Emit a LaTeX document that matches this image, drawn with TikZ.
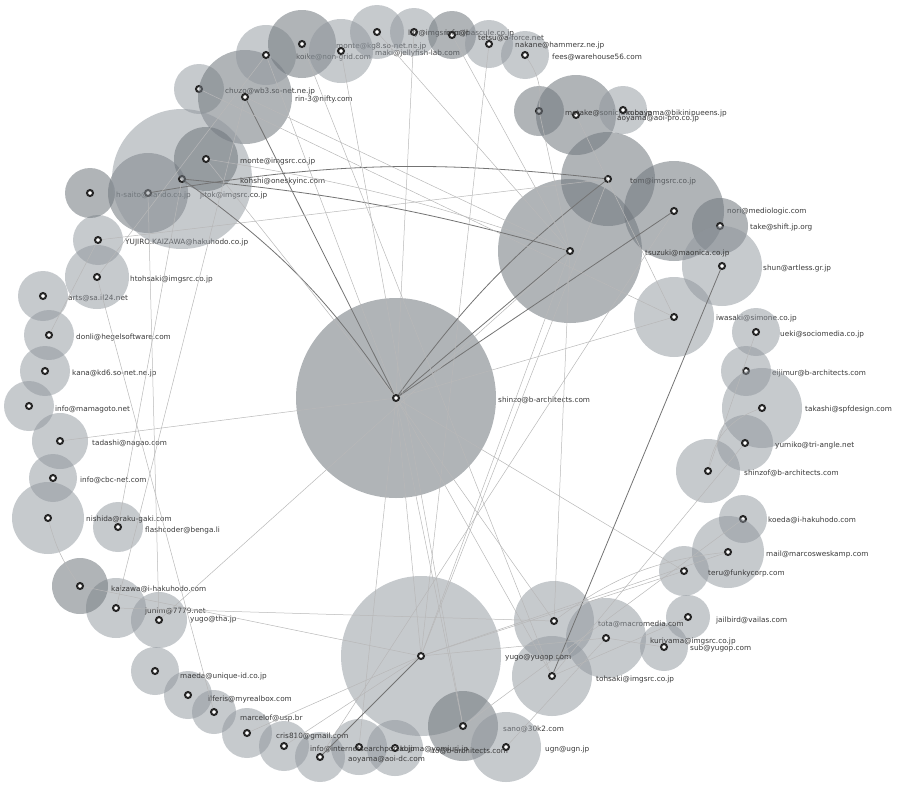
\documentclass[tikz,border=0pt]{standalone}
\usepackage{fontspec}
\setmainfont{DejaVu Sans}
\definecolor{bubc}{HTML}{8E959C}
\definecolor{dbubc}{HTML}{6F767C}
\begin{document}
\begin{tikzpicture}[x=1pt,y=-1pt,
  bub/.style={circle,fill=bubc,fill opacity=0.5,inner sep=0pt,draw=none},
  dbub/.style={circle,fill=dbubc,fill opacity=0.55,inner sep=0pt,draw=none},
  dot/.style={circle,draw=black!85,line width=2pt,fill=white,inner sep=0pt,minimum size=6pt},
  lab/.style={font=\fontsize{7.3}{8}\selectfont,text=black!78,anchor=west,inner sep=0pt},
  e/.style={draw=black!28,line width=0.5pt},
  d/.style={draw=black!55,line width=0.8pt}]
\useasboundingbox (0,0) rectangle (909,790);
\newcommand{\pn}[7]{%
  \node[#4,minimum size=#3*2pt] at (#2) {};
  \node[dot] (#1) at (#2) {};
  \node[lab] at (#6) {#5};}
% top
\pn{a1}{199,89}{25}{bub}{chuzo@wb3.so-net.ne.jp}{225,91}{}
\pn{a2}{245,97}{47}{dbub}{rin-3@nifty.com}{295,99}{}
\pn{a3}{266,55}{30}{bub}{koike@non-grid.com}{296,57}{}
\pn{a4}{302,44}{34}{dbub}{monte@kg8.so-net.ne.jp}{336,46}{}
\pn{a5}{341,51}{32}{bub}{maki@jellyfish-lab.com}{375,53}{}
\pn{a6}{377,32}{27}{bub}{}{0,0}{}
\pn{a7}{414,32}{24}{bub}{lily@imgsrc.co.jp}{408,33}{}
\pn{a8}{452,35}{24}{dbub}{info@bascule.co.jp}{445,33}{}
\pn{a9}{489,44}{24}{bub}{tetsu@a-force.net}{478,38}{}
\pn{a10}{525,55}{24}{bub}{nakane@hammerz.ne.jp}{515,45}{}
\node[lab] at (552,57) {fees@warehouse56.com};
% right
\pn{b1}{539,111}{25}{dbub}{}{0,0}{}
\pn{b2}{576,115}{40}{dbub}{motake@sonicjam.co.jp}{565,113}{}
\pn{b3}{623,110}{24}{bub}{kobayama@bikinipueens.jp}{626,113}{}
\node[lab] at (617,118) {aoyama@aoi-pro.co.jp};
\pn{b4}{608,179}{47}{dbub}{tom@imgsrc.co.jp}{630,181}{}
\pn{b5}{674,211}{50}{dbub}{nori@mediologic.com}{727,211}{}
\pn{b6}{720,226}{28}{dbub}{take@shift.jp.org}{750,227}{}
\pn{b7}{722,266}{40}{bub}{shun@artless.gr.jp}{763,268}{}
\pn{b8}{570,251}{72}{dbub}{tsuzuki@maonica.co.jp}{645,253}{}
\pn{b9}{674,317}{40}{bub}{iwasaki@simone.co.jp}{716,318}{}
\pn{b10}{756,332}{24}{bub}{ueki@sociomedia.co.jp}{780,334}{}
\pn{b11}{746,371}{25}{bub}{eijimur@b-architects.com}{772,373}{}
\pn{b12}{762,408}{40}{bub}{takashi@spfdesign.com}{805,409}{}
\pn{b13}{745,443}{28}{bub}{yumiko@tri-angle.net}{775,445}{}
\pn{b14}{708,471}{32}{bub}{shinzof@b-architects.com}{744,473}{}
\pn{b15}{743,519}{24}{bub}{koeda@i-hakuhodo.com}{768,520}{}
\pn{b16}{728,552}{36}{bub}{mail@marcosweskamp.com}{766,554}{}
\pn{b17}{684,571}{25}{bub}{teru@funkycorp.com}{708,573}{}
\pn{b18}{688,617}{22}{bub}{jailbird@vailas.com}{716,620}{}
\pn{b19}{664,647}{24}{bub}{sub@yugop.com}{690,648}{}
% bottom
\pn{c1}{554,621}{40}{bub}{tota@macromedia.com}{598,624}{}
\pn{c2}{606,638}{40}{bub}{kuriyama@imgsrc.co.jp}{650,641}{}
\pn{c3}{552,676}{40}{bub}{tohsaki@imgsrc.co.jp}{596,679}{}
\pn{c4}{421,656}{80}{bub}{yugo@yugop.com}{505,658}{}
\pn{c5}{463,726}{35}{dbub}{sano@30k2.com}{503,729}{}
\pn{c6}{506,747}{35}{bub}{ugn@ugn.jp}{545,749}{}
\pn{c7}{395,748}{28}{bub}{ito@b-architects.com}{430,751}{}
\pn{c8}{359,747}{28}{bub}{kojima@yomiuri.jp}{400,749}{}
\pn{c9}{320,757}{25}{bub}{aoyama@aoi-dc.com}{348,759}{}
\pn{c10}{284,746}{25}{bub}{info@internetsearchportal.jp}{310,749}{}
\pn{c11}{247,733}{25}{bub}{cris810@gmail.com}{276,736}{}
\pn{c12}{214,712}{22}{bub}{marcelof@usp.br}{240,718}{}
\pn{c13}{188,695}{24}{bub}{ilferis@myrealbox.com}{208,699}{}
% left
\pn{d1}{155,671}{24}{bub}{maeda@unique-id.co.jp}{180,676}{}
\pn{d2}{159,620}{28}{bub}{yugo@tha.jp}{190,619}{}
\pn{d3}{116,608}{30}{bub}{junim@7779.net}{145,611}{}
\pn{d4}{80,586}{28}{dbub}{kaizawa@i-hakuhodo.com}{111,589}{}
\pn{d5}{118,527}{25}{bub}{flashcoder@benga.li}{145,530}{}
\pn{d6}{48,518}{36}{bub}{nishida@raku-gaki.com}{86,519}{}
\pn{d7}{53,478}{24}{bub}{info@cbc-net.com}{80,480}{}
\pn{d8}{60,441}{28}{bub}{tadashi@nagao.com}{92,443}{}
\pn{d9}{29,406}{25}{bub}{info@mamagoto.net}{55,409}{}
\pn{d10}{45,371}{25}{bub}{kana@kd6.so-net.ne.jp}{72,373}{}
\pn{d11}{49,335}{25}{bub}{donli@hegelsoftware.com}{76,337}{}
\pn{d12}{43,296}{25}{bub}{arts@sa.il24.net}{68,298}{}
\pn{d13}{97,277}{32}{bub}{htohsaki@imgsrc.co.jp}{130,279}{}
\pn{d14}{98,240}{25}{bub}{YUJIRO.KAIZAWA@hakuhodo.co.jp}{125,242}{}
\pn{d15}{90,193}{25}{dbub}{h-saito@nando.co.jp}{116,195}{}
\pn{d16}{148,193}{40}{dbub}{jitok@imgsrc.co.jp}{200,195}{}
\pn{d17}{182,179}{70}{bub}{kohshi@oneskyinc.com}{240,181}{}
\pn{d18}{206,159}{32}{dbub}{monte@imgsrc.co.jp}{240,161}{}
% center
\pn{s}{396,398}{100}{dbub}{shinzo@b-architects.com}{498,400}{}
% edges
\draw[d] (s) -- (a2);
\draw[d] (s) to[bend right=10] (d17);
\draw[d] (s) -- (b8);
\draw[d] (s) to[bend left=8] (b4);
\draw[d] (s) -- (b5);
\draw[e] (s) -- (a3);
\draw[e] (s) -- (d18);
\draw[e] (s) -- (c4);
\draw[e] (s) -- (b9);
\draw[e] (s) -- (c1);
\draw[e] (s) -- (c3);
\draw[e] (s) -- (b17);
\draw[e] (s) -- (c8);
\draw[e] (s) -- (d8);
\draw[e] (s) -- (a7);
\draw[e] (s) -- (c5);
\draw[d] (d17) to[bend left=5] (b8);
\draw[d] (d16) to[bend left=8] (b4);
\draw[e] (d18) to[bend left=5] (b8);
\draw[e] (a2) -- (b8);
\draw[e] (a1) -- (b9);
\draw[e] (a5) -- (c5);
\draw[e] (a6) -- (b8);
\draw[e] (a9) -- (c4);
\draw[e] (a10) to[bend left=20] (b1);
\draw[e] (a4) -- (c3);
\draw[e] (b1) -- (b8);
\draw[e] (b2) -- (b9);
\draw[e] (b4) -- (c4);
\draw[e] (b5) -- (c9);
\draw[d] (b7) -- (c3);
\draw[e] (b8) -- (c4);
\draw[e] (b8) -- (d2);
\draw[e] (b8) -- (c1);
\draw[e] (b10) -- (b14);
\draw[e] (b12) to[bend right=30] (b14);
\draw[e] (b13) -- (c3);
\draw[e] (b16) -- (c4);
\draw[e] (b16) to[bend right=15] (c1);
\draw[e] (b15) -- (c5);
\draw[e] (b17) -- (c4);
\draw[e] (c4) -- (d4);
\draw[e] (c4) -- (c11);
\draw[e] (c4) -- (c10);
\draw[d] (c4) -- (c9);
\draw[e] (c4) -- (c2);
\draw[e] (c1) -- (d3);
\draw[e] (c2) -- (c6);
\draw[e] (d16) -- (d2);
\draw[e] (d17) -- (d5);
\draw[e] (d13) -- (c12);
\draw[e] (d14) -- (b4);
\draw[e] (a3) -- (d13);
\draw[e] (a2) -- (d3);
\draw[e] (d6) to[bend right=10] (d4);
\draw[e] (b19) -- (c2);
\draw[e] (b18) -- (c3);
\draw[e] (a8) -- (b8);
\draw[e] (d11) -- (d14);
\end{tikzpicture}
\end{document}
